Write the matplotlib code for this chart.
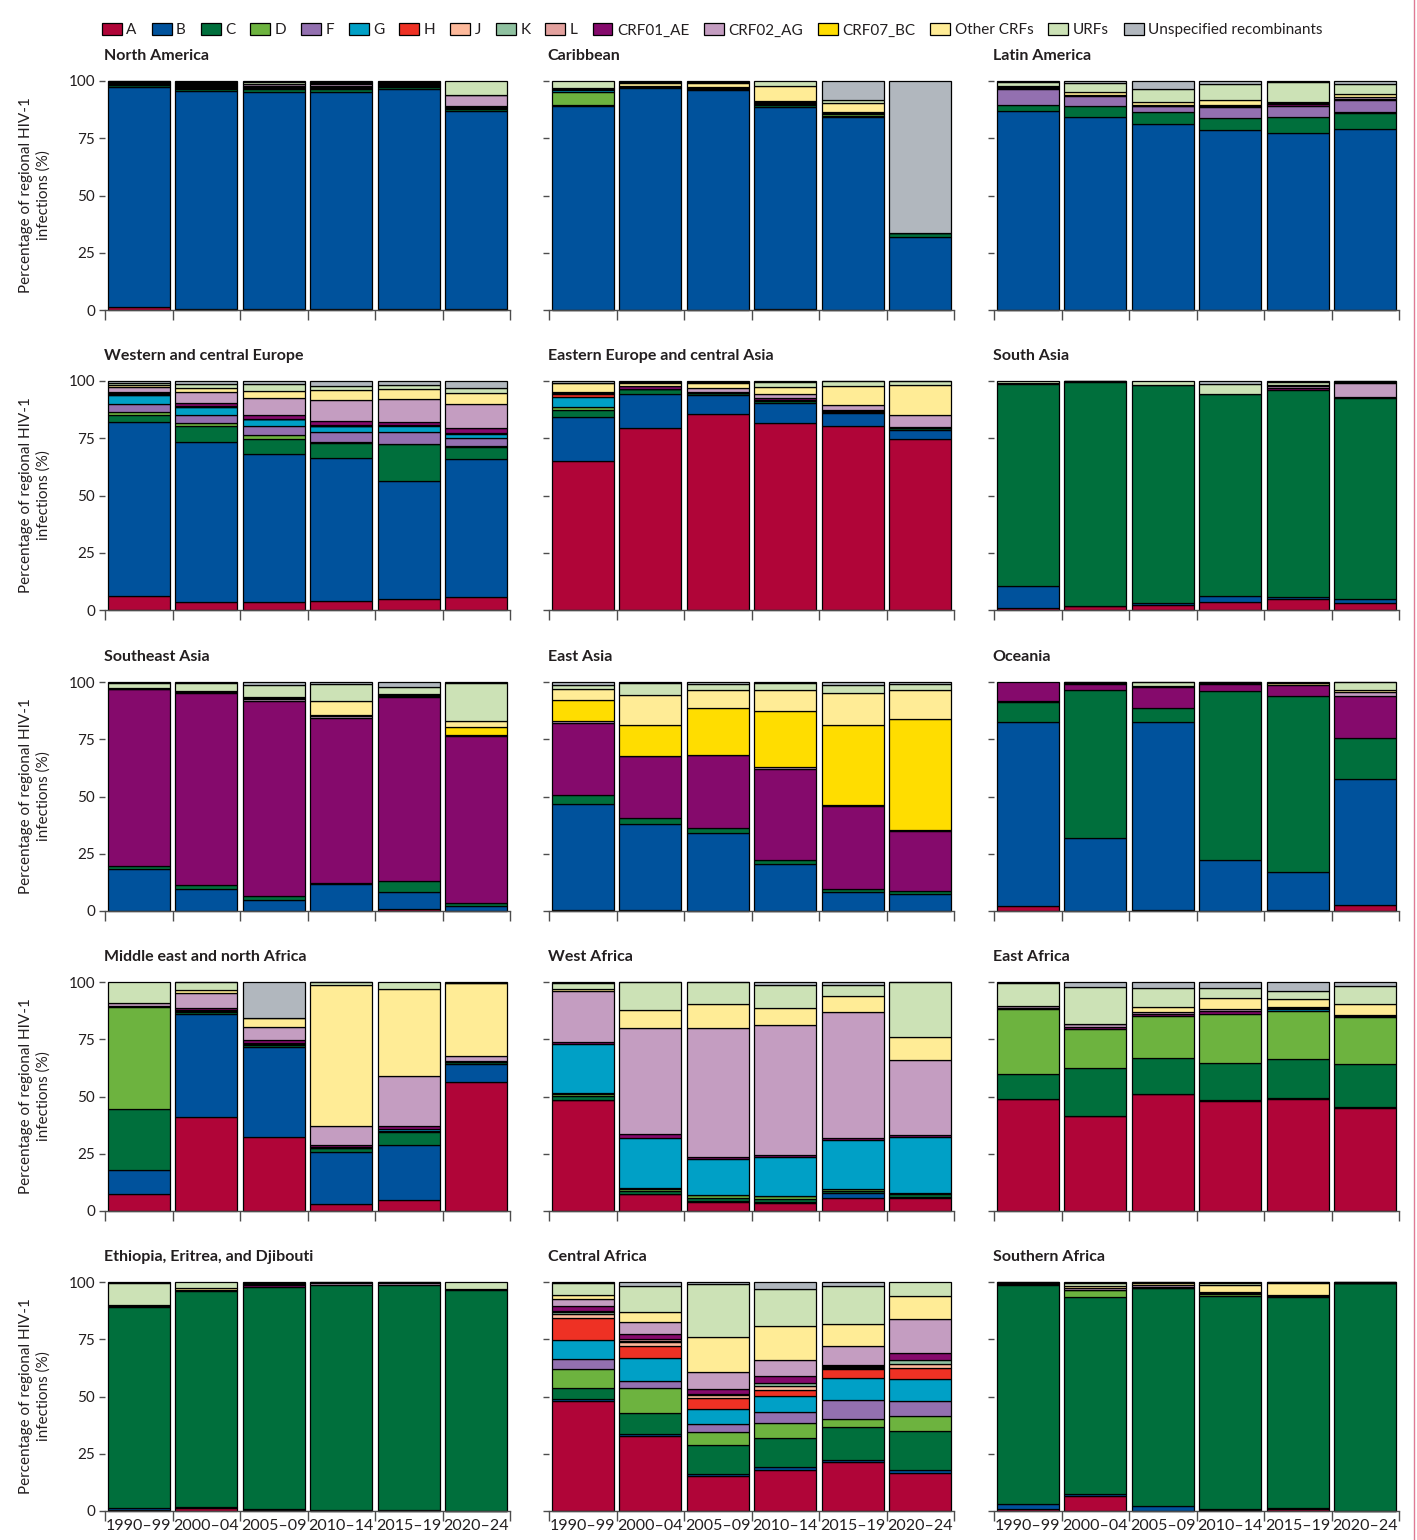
import matplotlib
matplotlib.use("Agg")
import matplotlib.pyplot as plt
from matplotlib.patches import Patch
import numpy as np

plt.rcParams["font.family"] = ["Lato", "DejaVu Sans"]

# ---------------------------------------------------------------- data
subtypes = ["A", "B", "C", "D", "F", "G", "H", "J", "K", "L",
            "CRF01_AE", "CRF02_AG", "CRF07_BC", "Other CRFs", "URFs",
            "Unspecified recombinants"]
subtype_colors = ["#B00538", "#00529C", "#006F3C", "#6DB33F", "#9370B0",
                  "#00A0C6", "#EE3124", "#FDB99B", "#8FC1A0", "#E3A19E",
                  "#850A6C", "#C49DC1", "#FFDD00", "#FFEC96", "#CCE2B6",
                  "#B1B7BE"]
periods = ["1990–99", "2000–04", "2005–09", "2010–14", "2015–19", "2020–24"]

north_america = {
    "A": [1.2, 0.4, 0.4, 0.4, 0.3, 0.3],
    "B": [96.3, 95.2, 95.0, 95.0, 96.2, 86.6],
    "C": [0.6, 1.0, 1.0, 1.0, 1.0, 0.8],
    "D": [0.3, 0.4, 0.4, 0.4, 0.3, 0.4],
    "F": [0.2, 0.3, 0.3, 0.3, 0.2, 0.3],
    "G": [0.2, 0.3, 0.3, 0.3, 0.2, 0.3],
    "CRF01_AE": [0.4, 0.5, 0.5, 0.6, 0.4, 0.6],
    "CRF02_AG": [0.3, 0.5, 0.6, 0.6, 0.4, 4.4],
    "Other CRFs": [0.2, 0.4, 0.4, 0.4, 0.3, 0.2],
    "URFs": [0.2, 0.6, 0.6, 0.5, 0.3, 6.1],
    "Unspecified recombinants": [0.1, 0.4, 0.5, 0.5, 0.3, 0.0],
}
caribbean = {
    "A": [0.2, 0.1, 0.1, 0.5, 0.2, 0.1],
    "B": [88.8, 96.8, 95.8, 88.5, 83.7, 31.7],
    "C": [0.5, 0.3, 0.4, 1.0, 0.5, 1.7],
    "D": [5.8, 0.2, 0.3, 0.4, 0.8, 0.2],
    "G": [0.8, 0.0, 0.0, 0.3, 0.0, 0.0],
    "CRF01_AE": [0.2, 0.3, 0.4, 0.5, 0.4, 0.0],
    "CRF02_AG": [0.4, 0.3, 0.4, 0.6, 0.4, 0.1],
    "Other CRFs": [0.3, 1.0, 1.9, 6.5, 3.9, 0.0],
    "URFs": [2.9, 0.7, 0.4, 2.2, 1.2, 0.0],
    "Unspecified recombinants": [0.0, 0.3, 0.3, 0.0, 8.4, 66.1],
}
latin_america = {
    "A": [0.2, 0.2, 0.2, 0.2, 0.2, 0.2],
    "B": [87.2, 84.4, 81.1, 78.3, 76.7, 79.0],
    "C": [2.3, 4.7, 5.2, 5.4, 7.0, 6.8],
    "D": [0.0, 0.0, 0.0, 0.0, 0.0, 0.5],
    "F": [7.3, 4.4, 2.5, 4.6, 5.1, 5.2],
    "CRF01_AE": [0.3, 0.3, 0.3, 0.5, 0.6, 0.5],
    "CRF02_AG": [0.4, 0.3, 0.3, 0.4, 0.6, 0.7],
    "Other CRFs": [0.3, 1.4, 1.4, 2.4, 0.5, 1.4],
    "URFs": [1.9, 3.6, 5.5, 6.8, 8.4, 4.4],
    "Unspecified recombinants": [0.5, 1.0, 3.5, 1.4, 0.6, 1.4],
}
western_central_europe = {
    "A": [6.3, 3.6, 3.6, 3.9, 4.8, 5.5],
    "B": [75.7, 70.2, 64.6, 62.3, 51.5, 60.7],
    "C": [3.2, 6.7, 6.7, 6.3, 16.0, 5.1],
    "D": [1.2, 1.5, 1.7, 0.5, 0.4, 0.4],
    "F": [3.5, 3.5, 3.8, 4.4, 5.1, 3.5],
    "G": [3.8, 3.3, 2.9, 2.6, 2.6, 1.9],
    "H": [0.4, 0.3, 0.2, 0.2, 0.2, 0.2],
    "J": [0.3, 0.1, 0.1, 0.1, 0.1, 0.1],
    "K": [0.3, 0.1, 0.1, 0.1, 0.1, 0.1],
    "CRF01_AE": [0.6, 1.2, 1.5, 1.8, 1.5, 2.3],
    "CRF02_AG": [2.2, 4.8, 7.6, 9.2, 9.9, 10.2],
    "Other CRFs": [0.8, 2.0, 2.9, 4.4, 4.4, 4.8],
    "URFs": [0.7, 1.5, 2.9, 1.7, 1.7, 2.5],
    "Unspecified recombinants": [1.0, 1.5, 1.5, 2.2, 1.7, 2.9],
}
eastern_europe_central_asia = {
    "A": [65.6, 79.8, 85.9, 82.0, 80.5, 75.0],
    "B": [19.5, 15.1, 8.3, 8.7, 5.4, 4.1],
    "C": [2.9, 1.9, 0.6, 1.0, 0.7, 0.5],
    "D": [1.2, 0.2, 0.1, 0.2, 0.1, 0.1],
    "G": [4.7, 0.1, 0.1, 0.1, 0.1, 0.1],
    "H": [1.2, 0.0, 0.0, 0.0, 0.0, 0.0],
    "J": [0.3, 0.0, 0.0, 0.0, 0.0, 0.0],
    "CRF01_AE": [0.3, 1.0, 0.6, 1.0, 0.5, 0.5],
    "CRF02_AG": [0.2, 0.2, 1.5, 1.5, 2.2, 5.4],
    "Other CRFs": [3.9, 1.3, 2.2, 3.3, 8.3, 13.1],
    "URFs": [0.2, 0.3, 0.5, 2.2, 2.2, 1.5],
    "Unspecified recombinants": [0.8, 0.6, 0.4, 0.3, 0.1, 0.1],
}
south_asia = {
    "A": [0.9, 1.7, 2.1, 3.6, 5.0, 2.9],
    "B": [9.4, 0.2, 0.8, 2.4, 0.5, 1.8],
    "C": [88.6, 97.7, 95.3, 88.3, 90.4, 87.7],
    "CRF01_AE": [0.2, 0.2, 0.1, 0.1, 1.0, 0.8],
    "CRF02_AG": [0.0, 0.0, 0.0, 0.0, 0.8, 5.8],
    "Other CRFs": [0.0, 0.1, 0.0, 0.0, 0.5, 0.4],
    "URFs": [0.9, 0.1, 1.7, 4.6, 1.5, 0.4],
    "Unspecified recombinants": [0.0, 0.0, 0.0, 1.1, 0.3, 0.2],
}
southeast_asia = {
    "A": [0.0, 0.0, 0.0, 0.0, 1.0, 0.2],
    "B": [18.5, 9.5, 4.8, 11.6, 7.3, 1.9],
    "C": [1.2, 1.7, 1.7, 0.6, 4.8, 1.2],
    "CRF01_AE": [77.1, 83.7, 84.9, 71.8, 79.6, 73.4],
    "CRF02_AG": [0.2, 0.4, 0.7, 0.8, 0.6, 0.3],
    "CRF07_BC": [0.0, 0.0, 0.3, 0.3, 0.4, 3.3],
    "Other CRFs": [0.2, 0.3, 0.5, 6.3, 0.5, 2.9],
    "URFs": [2.5, 3.6, 5.4, 7.3, 2.9, 16.7],
    "Unspecified recombinants": [0.3, 0.4, 1.2, 0.8, 2.2, 0.3],
}
east_asia = {
    "A": [0.3, 0.3, 0.2, 0.2, 0.2, 0.2],
    "B": [46.6, 37.8, 33.9, 20.4, 8.3, 7.3],
    "C": [3.9, 2.5, 2.5, 1.9, 1.0, 1.3],
    "CRF01_AE": [31.1, 26.9, 31.6, 39.9, 36.4, 26.1],
    "CRF02_AG": [0.9, 0.4, 0.4, 0.5, 0.5, 0.6],
    "CRF07_BC": [9.2, 13.4, 20.5, 24.5, 34.9, 48.2],
    "Other CRFs": [4.8, 13.2, 7.6, 9.2, 14.0, 12.7],
    "URFs": [1.7, 5.1, 2.9, 3.2, 3.5, 2.9],
    "Unspecified recombinants": [1.5, 0.4, 0.8, 0.5, 1.2, 0.7],
}
oceania = {
    "A": [2.0, 0.1, 0.5, 0.1, 0.6, 2.6],
    "B": [80.7, 31.6, 82.1, 22.0, 16.4, 55.2],
    "C": [8.5, 64.9, 6.2, 74.2, 76.9, 17.9],
    "G": [0.8, 0.0, 0.0, 0.0, 0.0, 0.0],
    "CRF01_AE": [8.1, 2.6, 9.0, 2.9, 4.9, 18.2],
    "CRF02_AG": [0.0, 0.0, 0.0, 0.0, 0.0, 1.8],
    "Other CRFs": [0.0, 0.5, 0.5, 0.5, 0.6, 1.0],
    "URFs": [0.0, 0.2, 1.5, 0.3, 0.3, 3.2],
    "Unspecified recombinants": [0.0, 0.2, 0.2, 0.1, 0.3, 0.1],
}
middle_east_north_africa = {
    "A": [7.4, 41.0, 32.3, 2.9, 4.8, 56.2],
    "B": [10.7, 44.9, 39.1, 22.9, 23.9, 8.0],
    "C": [26.8, 1.2, 1.2, 1.7, 5.8, 0.7],
    "D": [44.6, 0.3, 0.3, 0.2, 0.6, 0.2],
    "G": [0.0, 0.3, 0.5, 0.3, 0.8, 0.0],
    "CRF01_AE": [0.4, 0.8, 1.4, 0.9, 1.2, 0.5],
    "CRF02_AG": [1.2, 6.5, 5.5, 8.4, 21.7, 2.2],
    "Other CRFs": [0.0, 1.7, 3.9, 61.6, 38.0, 31.6],
    "URFs": [9.3, 3.2, 0.2, 1.0, 3.2, 0.3],
    "Unspecified recombinants": [0.0, 0.1, 15.5, 0.1, 0.0, 0.3],
}
west_africa = {
    "A": [48.3, 7.2, 4.1, 3.6, 5.8, 5.8],
    "B": [0.3, 0.3, 0.2, 0.3, 1.9, 0.3],
    "C": [1.5, 1.3, 1.4, 1.5, 1.2, 1.2],
    "D": [1.1, 1.0, 1.4, 1.1, 0.6, 0.4],
    "F": [0.4, 0.2, 0.1, 0.2, 0.2, 0.2],
    "G": [21.3, 22.0, 15.7, 16.7, 21.4, 24.6],
    "CRF01_AE": [1.0, 1.4, 0.6, 0.9, 0.6, 0.6],
    "CRF02_AG": [22.2, 46.5, 56.5, 57.1, 55.1, 33.0],
    "Other CRFs": [0.7, 7.5, 10.6, 7.4, 6.7, 9.9],
    "URFs": [2.9, 12.3, 9.4, 10.0, 4.9, 23.8],
    "Unspecified recombinants": [0.3, 0.1, 0.1, 1.2, 1.4, 0.2],
}
east_africa = {
    "A": [48.7, 41.4, 51.2, 48.3, 48.7, 44.9],
    "B": [0.2, 0.2, 0.2, 0.2, 0.5, 0.7],
    "C": [10.9, 21.2, 15.5, 16.4, 17.0, 18.6],
    "D": [28.3, 16.8, 18.6, 21.3, 20.7, 20.3],
    "G": [0.0, 0.0, 0.0, 0.0, 0.8, 0.0],
    "CRF01_AE": [0.7, 1.0, 0.8, 1.2, 0.6, 0.5],
    "CRF02_AG": [0.7, 1.2, 0.9, 1.0, 0.5, 0.5],
    "Other CRFs": [0.2, 0.1, 2.2, 5.1, 3.2, 4.8],
    "URFs": [9.7, 16.4, 8.1, 4.3, 3.6, 8.0],
    "Unspecified recombinants": [0.6, 2.0, 2.8, 2.5, 3.9, 1.7],
}
ethiopia_eritrea_djibouti = {
    "A": [0.6, 1.2, 0.3, 0.2, 0.2, 0.1],
    "B": [0.6, 0.7, 0.4, 0.3, 0.3, 0.1],
    "C": [87.9, 94.0, 97.1, 98.4, 98.4, 96.4],
    "CRF01_AE": [0.0, 0.0, 0.8, 0.0, 0.0, 0.0],
    "CRF02_AG": [0.4, 0.8, 0.4, 0.5, 0.5, 0.4],
    "Other CRFs": [0.3, 0.7, 0.4, 0.4, 0.4, 0.3],
    "URFs": [9.9, 2.6, 0.3, 0.2, 0.2, 2.9],
    "Unspecified recombinants": [0.3, 0.0, 0.3, 0.0, 0.0, 0.0],
}
central_africa = {
    "A": [48.0, 32.6, 15.4, 17.9, 21.5, 16.4],
    "B": [0.7, 0.6, 0.7, 1.2, 0.6, 1.5],
    "C": [4.8, 9.5, 12.7, 12.7, 14.4, 17.2],
    "D": [8.3, 10.6, 5.8, 6.8, 3.6, 6.6],
    "F": [4.4, 3.2, 3.2, 4.8, 8.2, 6.4],
    "G": [8.2, 9.8, 6.7, 6.6, 9.6, 9.6],
    "H": [9.5, 5.1, 4.9, 2.9, 3.9, 4.9],
    "J": [1.9, 1.9, 1.2, 1.7, 0.5, 1.5],
    "K": [0.6, 0.6, 0.4, 1.2, 0.5, 1.9],
    "L": [0.3, 0.7, 0.3, 0.0, 0.5, 0.0],
    "CRF01_AE": [2.2, 2.0, 1.9, 2.9, 0.4, 2.8],
    "CRF02_AG": [3.1, 5.5, 7.6, 7.3, 8.0, 15.0],
    "Other CRFs": [2.0, 4.4, 15.3, 14.6, 9.8, 10.2],
    "URFs": [5.2, 11.2, 22.9, 16.4, 16.4, 6.0],
    "Unspecified recombinants": [0.3, 1.6, 1.0, 2.9, 1.9, 0.0],
}
southern_africa = {
    "A": [0.7, 6.7, 0.2, 0.3, 0.9, 0.1],
    "B": [2.2, 0.7, 1.9, 0.4, 0.2, 0.1],
    "C": [96.1, 86.1, 95.3, 93.2, 92.3, 99.3],
    "D": [0.1, 2.9, 0.3, 1.0, 0.3, 0.1],
    "CRF01_AE": [0.2, 0.4, 0.5, 0.4, 0.3, 0.1],
    "CRF02_AG": [0.3, 0.6, 0.5, 0.5, 0.3, 0.1],
    "Other CRFs": [0.1, 1.0, 1.2, 3.2, 5.4, 0.1],
    "URFs": [0.2, 1.4, 0.2, 0.7, 0.2, 0.1],
    "Unspecified recombinants": [0.2, 0.3, 0.1, 0.4, 0.1, 0.1],
}

region_titles = [
    "North America", "Caribbean", "Latin America",
    "Western and central Europe", "Eastern Europe and central Asia", "South Asia",
    "Southeast Asia", "East Asia", "Oceania",
    "Middle east and north Africa", "West Africa", "East Africa",
    "Ethiopia, Eritrea, and Djibouti", "Central Africa", "Southern Africa",
]
region_data = [
    north_america, caribbean, latin_america,
    western_central_europe, eastern_europe_central_asia, south_asia,
    southeast_asia, east_asia, oceania,
    middle_east_north_africa, west_africa, east_africa,
    ethiopia_eritrea_djibouti, central_africa, southern_africa,
]

# ---------------------------------------------------------------- layout
W, H = 1417, 1540
fig = plt.figure(figsize=(W / 100, H / 100), dpi=100)
fig.patch.set_facecolor("white")

col_left = [105, 549, 994]
col_width = 405
row_zero = [310, 610, 911, 1211, 1511]
panel_h = 229
x = np.arange(len(periods))
text_col = "#231F20"

for idx, (title, data) in enumerate(zip(region_titles, region_data)):
    r, c = divmod(idx, 3)
    ax = fig.add_axes([col_left[c] / W, 1 - row_zero[r] / H,
                       col_width / W, panel_h / H])
    totals = np.zeros(len(periods))
    for st in subtypes:
        totals += np.array(data.get(st, [0.0] * len(periods)))
    bottom = np.zeros(len(periods))
    for st, col in zip(subtypes, subtype_colors):
        vals = np.array(data.get(st, [0.0] * len(periods)), dtype=float)
        share = vals / totals * 100
        keep = share > 0
        if keep.any():
            ax.bar(x[keep], share[keep], bottom=bottom[keep], width=0.92,
                   color=col, edgecolor="black", linewidth=0.9,
                   clip_on=False, zorder=2)
        bottom += share

    ax.set_xlim(-0.5, 5.5)
    ax.set_ylim(0, 100)
    for s in ("top", "right", "left"):
        ax.spines[s].set_visible(False)
    ax.spines["bottom"].set_color("#4D4D4D")
    ax.spines["bottom"].set_linewidth(1.0)
    ax.spines["bottom"].set_zorder(3)

    ax.set_yticks([0, 25, 50, 75, 100])
    ax.tick_params(axis="y", length=4.5, width=1.0, color="#4D4D4D",
                   pad=2.5, labelsize=11, labelcolor=text_col)
    if c != 0:
        ax.tick_params(axis="y", labelleft=False)

    ax.set_xticks(np.arange(-0.5, 6.0, 1.0))
    ax.set_xticklabels([])
    ax.tick_params(axis="x", which="major", length=7, width=1.0,
                   color="#4D4D4D", direction="out")
    ax.set_xticks(x, minor=True)
    if r == 4:
        ax.set_xticklabels(periods, minor=True)
    ax.tick_params(axis="x", which="minor", length=0, pad=5.5,
                   labelsize=11.5, labelcolor=text_col)

    ax.annotate(title, xy=(0, 1), xycoords="axes fraction",
                xytext=(-1, 15), textcoords="offset points",
                ha="left", va="baseline", fontsize=11.5,
                fontweight="bold", color=text_col)

    if c == 0:
        yc = 1 - (row_zero[r] - panel_h / 2) / H
        fig.text(35 / W, yc, "Percentage of regional HIV-1\ninfections (%)",
                 rotation=90, ha="center", va="center",
                 multialignment="center", fontsize=11, color=text_col,
                 linespacing=1.25)

# legend
handles = [Patch(facecolor=col, edgecolor="black", linewidth=0.9)
           for col in subtype_colors]
fig.legend(handles, subtypes, loc="upper left",
           bbox_to_anchor=(102 / W, 1 - 23 / H), ncol=len(subtypes),
           frameon=False, fontsize=11, handlelength=1.3, handleheight=0.85,
           handletextpad=0.3, columnspacing=0.97, borderaxespad=0,
           borderpad=0, labelcolor=text_col)

# thin frame line on the right edge
fig.add_artist(plt.Line2D([1414 / W, 1414 / W], [0, 1],
                          transform=fig.transFigure, color="#E07A94",
                          linewidth=1.0))

fig.savefig("out.png", dpi=100, facecolor="white")
